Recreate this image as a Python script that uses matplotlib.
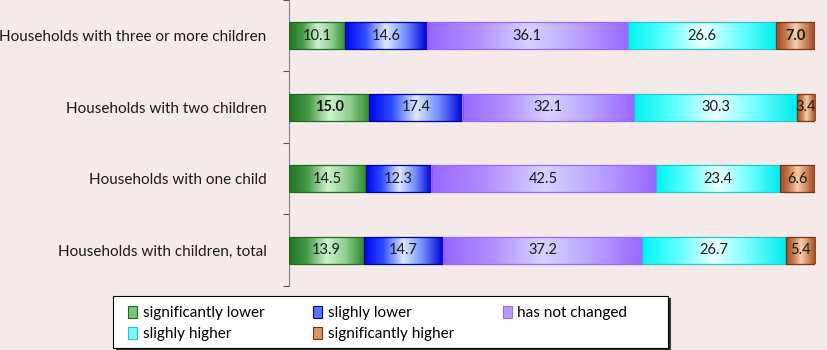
import numpy as np
import matplotlib.pyplot as plt
from matplotlib.colors import LinearSegmentedColormap
from matplotlib.patches import Patch, Rectangle

# data
groups = ['Households with three or more children',
          'Households with two children',
          'Households with one child',
          'Households with children, total']
answers = ['significantly lower', 'slighly lower', 'has not changed',
           'slighly higher', 'significantly higher']
sig_lower = [10.1, 15.0, 14.5, 13.9]
sl_lower = [14.6, 17.4, 12.3, 14.7]
unchanged = [36.1, 32.1, 42.5, 37.2]
sl_higher = [26.6, 30.3, 23.4, 26.7]
sig_higher = [7.0, 3.4, 6.6, 5.4]
bold_labels = [(1, 0), (0, 4)]   # (row, series) shown in bold

series = [sig_lower, sl_lower, unchanged, sl_higher, sig_higher]

# gradient stops for each series (edge dark, centre light like excel)
grad_colors = [
    ['#1f741f', '#4a9e4a', '#cdf3cd', '#8fcf8f', '#2f8a2f'],
    ['#0000f0', '#3050ff', '#dde9ff', '#6f8cff', '#0000d8'],
    ['#9a66ff', '#b190ff', '#d6d2ff', '#b8a2ff', '#9966ff'],
    ['#00f4f4', '#60ffff', '#eaffff', '#70ffff', '#00ecec'],
    ['#9c4a22', '#c9784a', '#f6cfae', '#d08a5c', '#9a4620'],
]
edge_colors = ['#1d6b1d', '#0000a0', '#9a66ff', '#22c8c8', '#7a3414']
legend_colors = ['#7cc47c', '#5577ff', '#b49cff', '#7ff5f5', '#d99468']
bg = '#f5eaea'

plt.rcParams['font.family'] = ['Lato', 'DejaVu Sans']

fig = plt.figure(figsize=(8.28, 3.5), dpi=100, facecolor=bg)
ax = fig.add_axes([0.349, 0.183, 0.635, 0.817])
ax.set_facecolor(bg)

vals = np.array(series, dtype=float)          # series x rows
totals = vals.sum(axis=0)
pct = vals / totals * 100
y = np.arange(len(groups))
bar_h = 0.38

grad = np.linspace(0, 1, 256).reshape(1, -1)
left = np.zeros(len(groups))
for i in range(len(series)):
    cmap = LinearSegmentedColormap.from_list('g%d' % i, grad_colors[i])
    bars = ax.barh(y, pct[i], left=left, height=bar_h, facecolor='none',
                   edgecolor=edge_colors[i], linewidth=0.9, zorder=3)
    for j, b in enumerate(bars):
        x0, x1 = left[j], left[j] + pct[i][j]
        im = ax.imshow(grad, cmap=cmap, aspect='auto', interpolation='bicubic',
                       extent=[x0, x1, y[j] + bar_h / 2, y[j] - bar_h / 2],
                       zorder=2)
        im.set_clip_path(b)
        weight = 'bold' if (j, i) in bold_labels else 'normal'
        ax.text((x0 + x1) / 2, y[j], '%.1f' % vals[i][j], ha='center',
                va='center', fontsize=10.5, color='#1a1a1a',
                fontweight=weight, zorder=4)
    left = left + pct[i]

# boundaries as major ticks, names as minor ticks
ax.set_yticks(np.arange(len(groups) + 1) - 0.5)
ax.set_yticklabels([])
ax.set_yticks(y, minor=True)
ax.set_yticklabels(groups, minor=True, fontsize=11, color='#1a1a1a')
ax.tick_params(axis='y', which='major', length=4, color='#555555')
ax.tick_params(axis='y', which='minor', length=0, pad=16)
ax.set_xticks([])
for s in ['top', 'right', 'bottom']:
    ax.spines[s].set_visible(False)
ax.spines['left'].set_color('#7f7f7f')

# legend box drawn by hand (excel style with a dark shadow)
box = (0.1365, 0.0057, 0.6703, 0.1486)
fig.add_artist(Rectangle((box[0] + 2.5 / 828, box[1] - 2.5 / 350), box[2], box[3],
                         transform=fig.transFigure, facecolor='#333333',
                         edgecolor='none', zorder=1))
fig.add_artist(Rectangle(box[:2], box[2], box[3], transform=fig.transFigure,
                         facecolor='white', edgecolor='black', linewidth=0.8,
                         zorder=2))

# legend filled row by row like excel
order = [0, 3, 1, 4, 2]
handles = [Patch(facecolor=legend_colors[k], edgecolor=edge_colors[k],
                 linewidth=0.8) for k in order]
leg = fig.legend(handles, [answers[k] for k in order], ncol=3,
                 loc='center left', bbox_to_anchor=(0.1546, 0.0757),
                 fontsize=11, frameon=False,
                 handlelength=0.6, handleheight=0.8, handletextpad=0.35,
                 borderaxespad=0, labelspacing=0.45, borderpad=0,
                 columnspacing=3.2)
leg.set_zorder(3)

ax.set_autoscale_on(False)
ax.set_xlim(0, 100)
ax.set_ylim(len(groups) - 0.5, -0.5)

fig.savefig('out.png', dpi=100, facecolor=bg)
